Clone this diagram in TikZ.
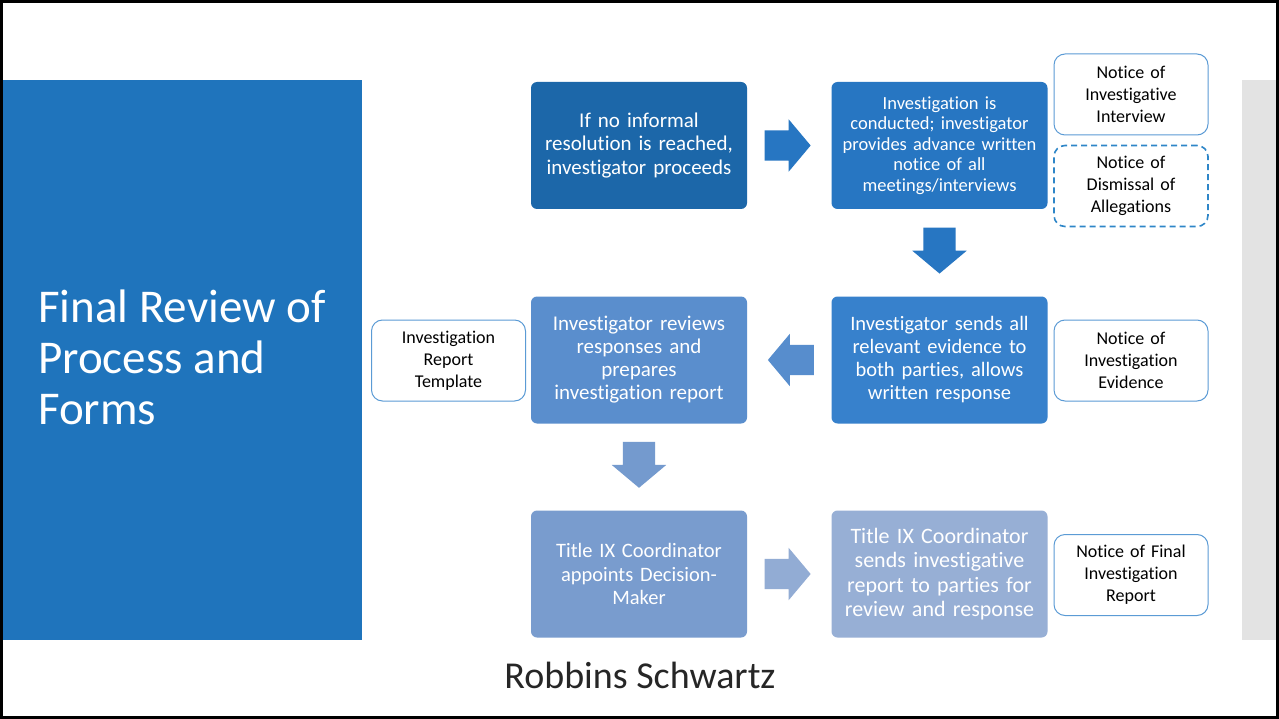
\documentclass[tikz,border=0pt]{standalone}
\usepackage{fontspec}
\setmainfont{Carlito}[Ligatures=NoCommon]
\usepackage{tikz}
\usetikzlibrary{calc}
\usetikzlibrary{shapes.arrows}

\definecolor{panelblue}{HTML}{1F74BC}
\definecolor{stepone}{HTML}{1C67A9}
\definecolor{steptwo}{HTML}{2776C2}
\definecolor{stepthree}{HTML}{3781CC}
\definecolor{stepfour}{HTML}{5A8ECD}
\definecolor{stepfive}{HTML}{799CCE}
\definecolor{stepsix}{HTML}{97AFD5}
\definecolor{formline}{HTML}{5B9BD5}
\definecolor{dashline}{HTML}{2E86C8}
\definecolor{bandgray}{HTML}{E3E3E3}

\begin{document}
\begin{tikzpicture}[x=1pt,y=-1pt,
    procbox/.style={rounded corners=6pt, text=white, align=center, inner sep=0pt,
        minimum width=216pt, minimum height=127pt, text width=210pt},
    formbox/.style={draw=formline, line width=1pt, fill=white, rounded corners=11pt,
        align=center, inner sep=0pt, minimum width=154pt, minimum height=81pt,
        text width=150pt, font=\fontsize{18}{22}\selectfont},
    blockarrow/.style={single arrow, draw=none, inner xsep=0pt, inner ysep=15pt,
        minimum height=46pt, single arrow head extend=11pt, single arrow tip angle=100},
    rightarrow/.style={blockarrow, xshift=-8pt},
    leftarrow/.style={blockarrow, shape border rotate=180, xshift=8pt},
    downarrow/.style={blockarrow, inner xsep=16pt, inner ysep=0pt, shape border rotate=270, yshift=9pt}]

            % Define the sizes of the slide
            \def\w{1279}  % width of the slide
            \def\h{719}   % height of the slide

            % Draw the slide background
            \useasboundingbox (0,0) rectangle (\w,\h);
            \fill[white] (0,0) rectangle (\w,\h);
            \fill[panelblue] (3,80) rectangle (362,640);
            \fill[bandgray] (1242,80) rectangle (\w,640);
            \draw[line width=3pt] (1.5,1.5) rectangle ({\w-1.5},{\h-1.5});

            % Draw the title
            \node[text=white, align=left, anchor=base west, inner sep=0pt,
                font=\fontsize{47}{51}\selectfont] (title) at (38,424)
                {Final Review of\\Process and\\Forms};

            % Draw the process steps
            \node[procbox, fill=stepone, font=\fontsize{21}{23.5}\selectfont] (S1) at (639,145.5)
                {If no informal\\resolution is reached,\\investigator proceeds};
            \node[procbox, fill=steptwo, font=\fontsize{18.5}{20.5}\selectfont] (S2) at (939.5,145.5)
                {Investigation is\\conducted; investigator\\provides advance written\\notice of all\\meetings/interviews};
            \node[procbox, fill=stepthree, font=\fontsize{20.5}{23}\selectfont] (S3) at (939.5,360)
                {Investigator sends all\\relevant evidence to\\both parties, allows\\written response};
            \node[procbox, fill=stepfour, font=\fontsize{21}{23}\selectfont] (S4) at (639,360)
                {Investigator reviews\\responses and\\prepares\\investigation report};
            \node[procbox, fill=stepfive, font=\fontsize{20.5}{23.5}\selectfont] (S5) at (639,574)
                {Title IX Coordinator\\appoints Decision-\\Maker};
            \node[procbox, fill=stepsix, font=\fontsize{22}{24.5}\selectfont] (S6) at (939.5,574)
                {Title IX Coordinator\\sends investigative\\report to parties for\\review and response};

            % Draw the forms
            \node[formbox] (F1) at (1131,94.5) {Notice of\\Investigative\\Interview};
            \node[formbox, draw=dashline, line width=1.6pt, dash pattern=on 6pt off 4pt] (F2) at (1131,186)
                {Notice of\\Dismissal of\\Allegations};
            \node[formbox] (F3) at (1131,360.5) {Notice of\\Investigation\\Evidence};
            \node[formbox] (F4) at (448.5,360.5) {Investigation\\Report\\Template};
            \node[formbox] (F5) at (1131,575) {Notice of Final\\Investigation\\Report};

            % Draw the arrows between steps
            \node[rightarrow, fill=steptwo] (A12) at ($(S1.east)!0.5!(S2.west)$) {};
            \node[downarrow, fill=steptwo] (A23) at ($(S2.south)!0.5!(S3.north)$) {};
            \node[leftarrow, fill=stepfour!90!stepthree] (A34) at ($(S3.west)!0.5!(S4.east)$) {};
            \node[downarrow, fill=stepfive!85!stepfour] (A45) at ($(S4.south)!0.5!(S5.north)$) {};
            \node[rightarrow, fill=stepsix!85!stepfive] (A56) at ($(S5.east)!0.5!(S6.west)$) {};

            % Draw the firm name
            \node[text=black!85, font=\fontsize{38}{42}\selectfont] (firm) at (640,675) {Robbins Schwartz};

\end{tikzpicture}
\end{document}
